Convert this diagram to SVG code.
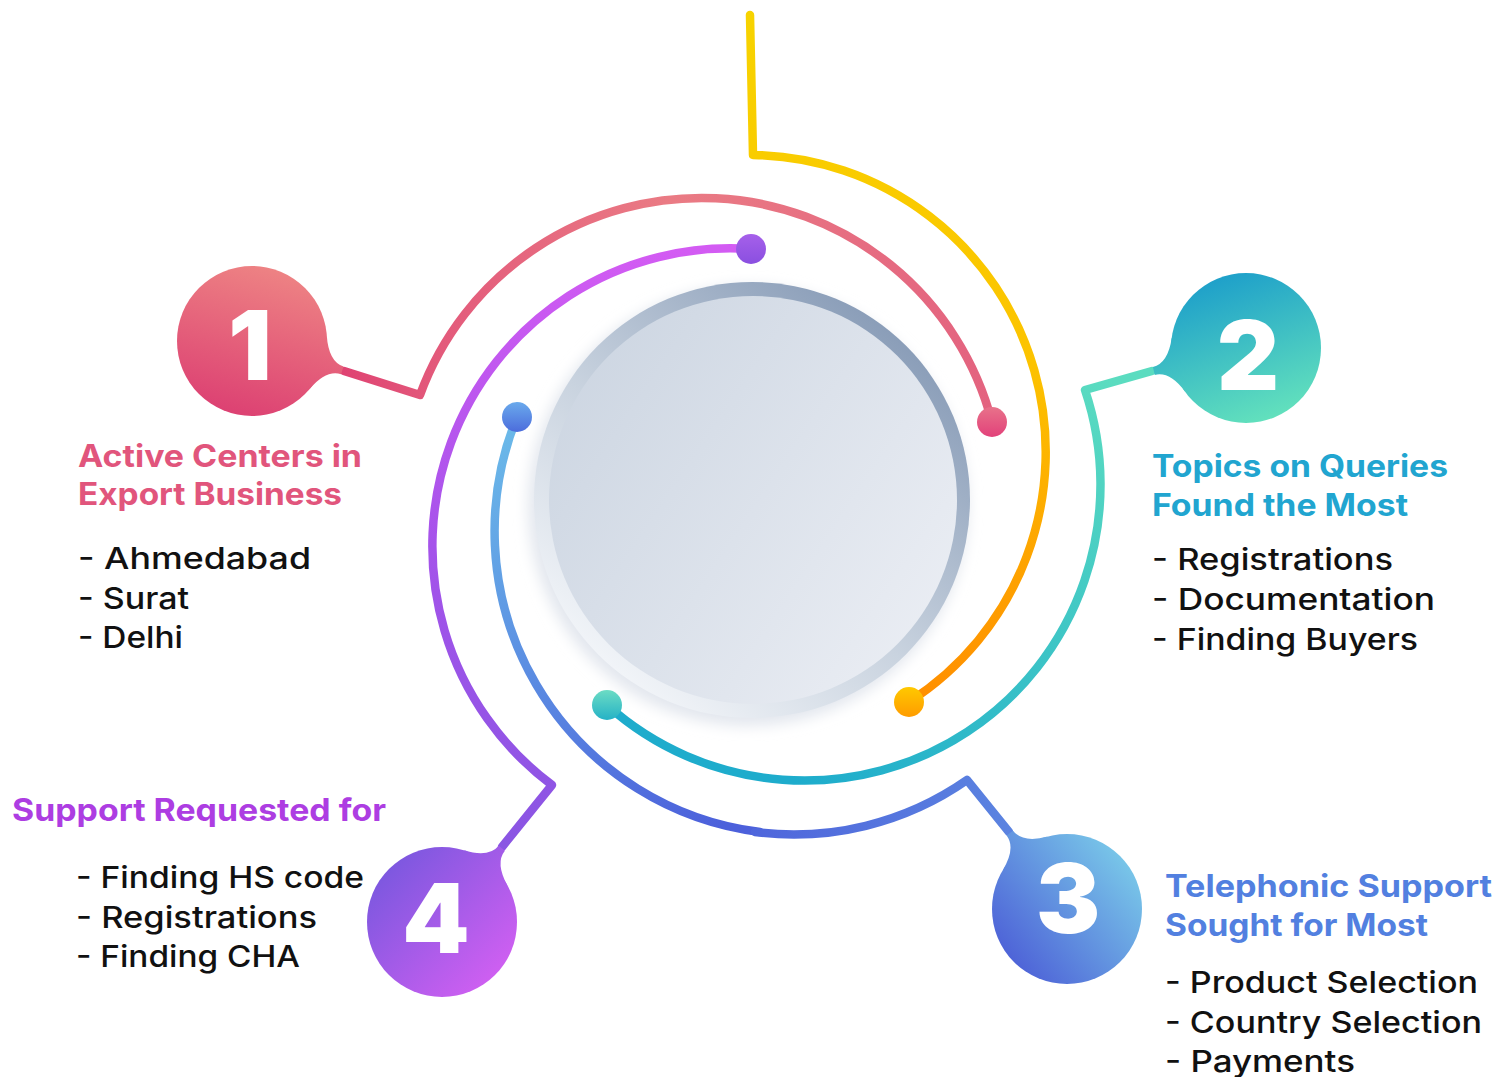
<svg xmlns="http://www.w3.org/2000/svg" width="1509" height="1077" viewBox="0 0 1509 1077">
<style>
.arc{fill:none;stroke-width:8.5;stroke-linecap:round;stroke-linejoin:round}
.num{font-family:Inter,"Noto Sans",sans-serif;font-weight:900;font-size:96px;fill:#ffffff;text-anchor:middle}
.ttl{font-family:Inter,"Noto Sans",sans-serif;font-weight:700;font-size:31px}
.itm{font-family:Inter,"Noto Sans",sans-serif;font-weight:500;font-size:30px;fill:#111111}
</style>
<defs>
<linearGradient id="gRing" gradientUnits="userSpaceOnUse" x1="600" y1="690" x2="910" y2="320"><stop offset="0" stop-color="#f6f8fb"/><stop offset="0.45" stop-color="#c9d3df"/><stop offset="1" stop-color="#8599b5"/></linearGradient>
<linearGradient id="gDisc" gradientUnits="userSpaceOnUse" x1="560" y1="380" x2="950" y2="640"><stop offset="0" stop-color="#cdd6e2"/><stop offset="1" stop-color="#ebeef4"/></linearGradient>
<filter id="blur" x="-20%" y="-20%" width="140%" height="140%"><feGaussianBlur stdDeviation="7"/></filter>
<linearGradient id="gC1" gradientUnits="userSpaceOnUse" x1="275" y1="265" x2="230" y2="418"><stop offset="0" stop-color="#ee8484"/><stop offset="1" stop-color="#dc3f72"/></linearGradient>
<linearGradient id="gC2" gradientUnits="userSpaceOnUse" x1="1225" y1="272" x2="1280" y2="424"><stop offset="0" stop-color="#1d9fca"/><stop offset="1" stop-color="#66e4bc"/></linearGradient>
<linearGradient id="gC3" gradientUnits="userSpaceOnUse" x1="1140" y1="855" x2="1000" y2="970"><stop offset="0" stop-color="#7ccfea"/><stop offset="1" stop-color="#4a5ad6"/></linearGradient>
<linearGradient id="gC4" gradientUnits="userSpaceOnUse" x1="380" y1="860" x2="510" y2="985"><stop offset="0" stop-color="#7757de"/><stop offset="1" stop-color="#d760f3"/></linearGradient>
<linearGradient id="sRed" gradientUnits="userSpaceOnUse" x1="340" y1="400" x2="1000" y2="400"><stop offset="0" stop-color="#df4272"/><stop offset="0.15" stop-color="#e35a7b"/><stop offset="0.5" stop-color="#ea7b84"/><stop offset="1" stop-color="#e3627f"/></linearGradient>
<linearGradient id="sYel" gradientUnits="userSpaceOnUse" x1="0" y1="15" x2="0" y2="705"><stop offset="0" stop-color="#f7d300"/><stop offset="0.5" stop-color="#fcc300"/><stop offset="1" stop-color="#ff8e00"/></linearGradient>
<linearGradient id="sTeal" gradientUnits="userSpaceOnUse" x1="1110" y1="380" x2="800" y2="785"><stop offset="0" stop-color="#5bdcc0"/><stop offset="1" stop-color="#1eaccc"/></linearGradient>
<linearGradient id="sBlue" gradientUnits="userSpaceOnUse" x1="500" y1="420" x2="720" y2="830"><stop offset="0" stop-color="#6bbbe9"/><stop offset="1" stop-color="#4c60db"/></linearGradient>
<linearGradient id="sBlue2" gradientUnits="userSpaceOnUse" x1="700" y1="0" x2="1010" y2="0"><stop offset="0" stop-color="#4c60db"/><stop offset="1" stop-color="#5b83e0"/></linearGradient>
<linearGradient id="sPur" gradientUnits="userSpaceOnUse" x1="0" y1="249" x2="0" y2="845"><stop offset="0" stop-color="#d35bf3"/><stop offset="0.5" stop-color="#a553ea"/><stop offset="1" stop-color="#8a55e3"/></linearGradient>
<linearGradient id="dRed" x1="0" y1="0" x2="0" y2="1"><stop offset="0" stop-color="#e8728a"/><stop offset="1" stop-color="#e2417a"/></linearGradient>
<linearGradient id="dYel" x1="0" y1="0" x2="0" y2="1"><stop offset="0" stop-color="#ffc900"/><stop offset="1" stop-color="#ff9c00"/></linearGradient>
<linearGradient id="dTeal" x1="0" y1="0" x2="0" y2="1"><stop offset="0" stop-color="#6cdcc4"/><stop offset="1" stop-color="#25b2c6"/></linearGradient>
<linearGradient id="dBlue" x1="0" y1="0" x2="0" y2="1"><stop offset="0" stop-color="#6aaaec"/><stop offset="1" stop-color="#4c6cdc"/></linearGradient>
<linearGradient id="dPur" x1="0" y1="0" x2="0" y2="1"><stop offset="0" stop-color="#a660ea"/><stop offset="1" stop-color="#8a4fe0"/></linearGradient>
</defs>
<rect x="0" y="0" width="1509" height="1077" fill="#ffffff"/>

<g id="center">
<circle cx="748" cy="506" r="220" fill="#e3e7ee" filter="url(#blur)"/>
<circle cx="752" cy="500" r="218" fill="url(#gRing)"/>
<circle cx="753" cy="500" r="204" fill="url(#gDisc)"/>
</g>

<g id="connectors">
<path class="arc" stroke="url(#sRed)" d="M344,371 L420,395 A300,300 0 0,1 992,422"/>
<path class="arc" stroke="url(#sYel)" d="M750,15 L753,155 A297,297 0 0,1 909,702"/>
<path class="arc" stroke="url(#sTeal)" d="M1152,371 L1085,390 A296,296 0 0,1 607,705"/>
<path class="arc" stroke="url(#sBlue)" d="M517,417 A303,303 0 0,0 760,832"/>
<path class="arc" stroke="url(#sBlue2)" d="M755,832 A303,303 0 0,0 967,780 L1009,832"/>
<path class="arc" stroke="url(#sPur)" d="M751,249 A298,298 0 0,0 552,785 L502,847"/>
<circle cx="992" cy="422" r="15" fill="url(#dRed)"/>
<circle cx="909" cy="702" r="15" fill="url(#dYel)"/>
<circle cx="607" cy="705" r="15" fill="url(#dTeal)"/>
<circle cx="517" cy="417" r="15" fill="url(#dBlue)"/>
<circle cx="751" cy="249" r="15" fill="url(#dPur)"/>
</g>

<g id="node-1">
<circle cx="252" cy="341" r="75" fill="url(#gC1)"/>
<path fill="url(#gC1)" d="M326.8,335.8 Q328.6,361.7 343.5,366.6 L341.1,374.2 Q326.2,369.3 309.4,389.2 Z"/>
<text class="num" x="250" y="380">1</text>
<text class="ttl" fill="#e1557c" x="78" y="467" textLength="284" lengthAdjust="spacingAndGlyphs">Active Centers in</text>
<text class="ttl" fill="#e1557c" x="78" y="505" textLength="264" lengthAdjust="spacingAndGlyphs">Export Business</text>
<text class="itm" x="78" y="569" textLength="233" lengthAdjust="spacingAndGlyphs">- Ahmedabad</text>
<text class="itm" x="78" y="609" textLength="111" lengthAdjust="spacingAndGlyphs">- Surat</text>
<text class="itm" x="78" y="648" textLength="105" lengthAdjust="spacingAndGlyphs">- Delhi</text>
</g>

<g id="node-2">
<circle cx="1246" cy="348" r="75" fill="url(#gC2)"/>
<path fill="url(#gC2)" d="M1185.4,392.1 Q1170.1,371.1 1154.8,374.9 L1152.9,367.1 Q1168.1,363.3 1171.8,337.5 Z"/>
<text class="num" x="1248" y="390">2</text>
<text class="ttl" fill="#21a5d0" x="1152" y="477" textLength="296" lengthAdjust="spacingAndGlyphs">Topics on Queries</text>
<text class="ttl" fill="#21a5d0" x="1152" y="516" textLength="256" lengthAdjust="spacingAndGlyphs">Found the Most</text>
<text class="itm" x="1152" y="570" textLength="241" lengthAdjust="spacingAndGlyphs">- Registrations</text>
<text class="itm" x="1152" y="610" textLength="283" lengthAdjust="spacingAndGlyphs">- Documentation</text>
<text class="itm" x="1152" y="650" textLength="266" lengthAdjust="spacingAndGlyphs">- Finding Buyers</text>
</g>

<g id="node-3">
<circle cx="1067" cy="909" r="75" fill="url(#gC3)"/>
<path fill="url(#gC3)" d="M1002.7,870.4 Q1016.1,848.0 1006.6,835.5 L1013.0,830.7 Q1022.5,843.2 1047.7,836.6 Z"/>
<text class="num" x="1068" y="933">3</text>
<text class="ttl" fill="#5280e0" x="1165" y="897" textLength="327" lengthAdjust="spacingAndGlyphs">Telephonic Support</text>
<text class="ttl" fill="#5280e0" x="1165" y="936" textLength="263" lengthAdjust="spacingAndGlyphs">Sought for Most</text>
<text class="itm" x="1165" y="993" textLength="313" lengthAdjust="spacingAndGlyphs">- Product Selection</text>
<text class="itm" x="1165" y="1033" textLength="317" lengthAdjust="spacingAndGlyphs">- Country Selection</text>
<text class="itm" x="1165" y="1072" textLength="190" lengthAdjust="spacingAndGlyphs">- Payments</text>
</g>

<g id="node-4">
<circle cx="442" cy="922" r="75" fill="url(#gC4)"/>
<path fill="url(#gC4)" d="M463.9,850.3 Q488.8,857.9 498.7,845.7 L504.9,850.7 Q495.0,862.9 507.5,885.7 Z"/>
<text class="num" x="436" y="953">4</text>
<text class="ttl" fill="#ad3de2" x="12" y="821" textLength="374" lengthAdjust="spacingAndGlyphs">Support Requested for</text>
<text class="itm" x="76" y="888" textLength="288" lengthAdjust="spacingAndGlyphs">- Finding HS code</text>
<text class="itm" x="76" y="928" textLength="241" lengthAdjust="spacingAndGlyphs">- Registrations</text>
<text class="itm" x="76" y="967" textLength="224" lengthAdjust="spacingAndGlyphs">- Finding CHA</text>
</g>
</svg>
